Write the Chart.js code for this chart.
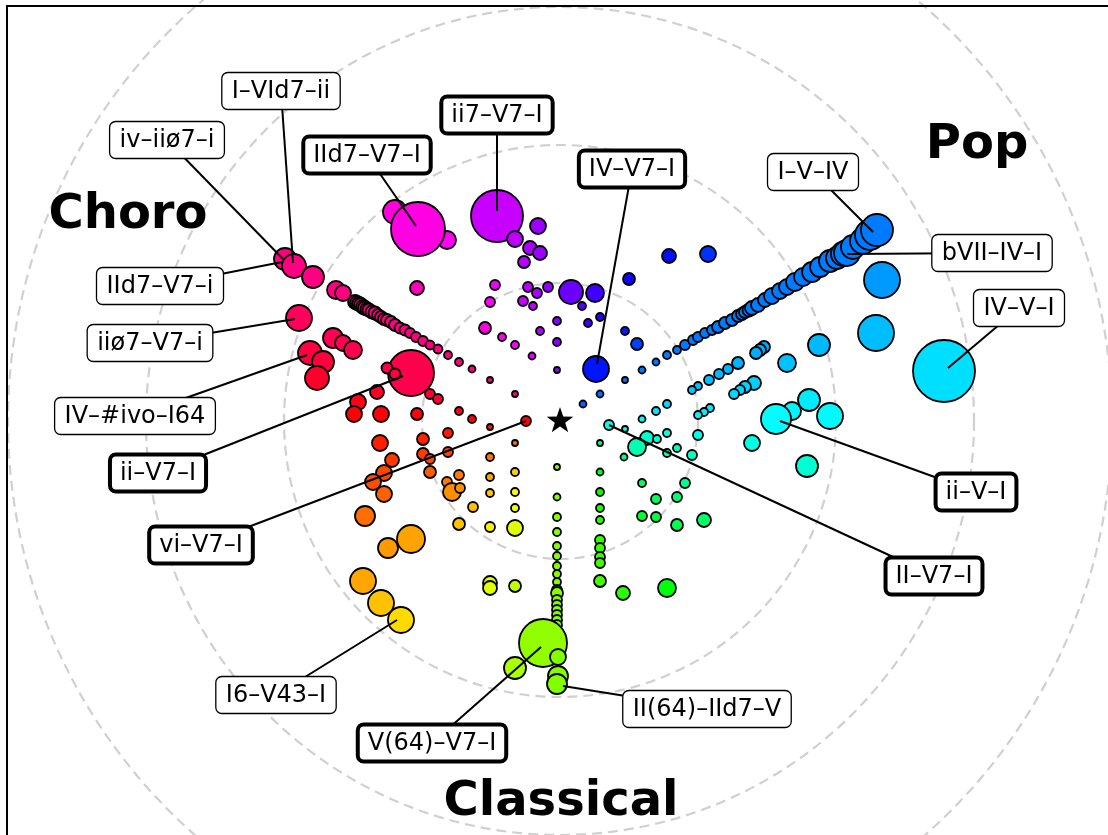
<!DOCTYPE html>
<html>
<head>
<meta charset="utf-8">
<script src="https://cdn.jsdelivr.net/npm/chart.js@4.4.0/dist/chart.umd.min.js"></script>
<style>
  html, body { margin: 0; padding: 0; background: #fff; }
  canvas { display: block; }
</style>
</head>
<body>
<canvas id="chart" width="1108" height="835"></canvas>
<script>
// rings around the centre (the star), same units as the points
const ringRadii = [138, 276, 414, 552];

// each point: [x, y, size] relative to the centre
const choroCluster = [
  [-275, 162, 11], [-266, 155, 12], [-247, 144, 11], [-224, 131, 9], [-217, 128, 8]
];
const choroRay = [
  [-205, 119, 7], [-203, 118, 7], [-201, 117, 7], [-199, 116, 7], [-197, 114, 7],
  [-195, 113, 7], [-193, 112, 6.5], [-191, 111, 6.5], [-188, 109, 6.5], [-185, 108, 6.5],
  [-182, 106, 6], [-179, 104, 6], [-176, 102, 6], [-173, 101, 6], [-169, 99, 6],
  [-165, 96, 6], [-160, 93, 5.5], [-155, 91, 5.5], [-150, 88, 5], [-144, 84, 5],
  [-137, 80, 5], [-130, 76, 4.5], [-122, 72, 4.5], [-112, 66, 4], [-101, 59, 4],
  [-88, 52, 3.5], [-70, 41, 3], [-45, 27, 3]
];
const magentaPoints = [
  [-165, 209, 12], [-113, 181, 9], [-142, 192, 27], [-143, 133, 7],
  [-65, 136, 5], [-70, 119, 5], [-75, 93, 6], [-58, 84, 4]
];
const purplePoints = [
  [-63, 205, 26], [-45, 182, 8], [-22, 195, 8], [-30, 173, 7], [-20, 168, 7], [-36, 159, 6],
  [-32, 134, 5], [-23, 128, 5], [-12, 134, 5], [-37, 120, 5], [-27, 115, 4],
  [11, 129, 12], [35, 128, 9], [22, 115, 4], [-3, 100, 4], [-20, 90, 4],
  [-3, 79, 4], [-45, 76, 4], [-28, 65, 3.5], [-3, 51, 3]
];
const bluePoints = [
  [109, 165, 7], [148, 167, 8], [69, 142, 6], [28, 98, 4], [40, 104, 4], [65, 90, 4],
  [77, 77, 6], [82, 51, 3.5], [65, 41, 3], [40, 27, 3.5], [23, 17, 3.5], [36, 52, 13]
];
const popRay = [
  [96, 59, 3.5], [107, 66, 4], [117, 71, 4], [125, 76, 5], [133, 81, 5], [138, 84, 5],
  [145, 88, 5], [152, 91, 5], [158, 94, 6], [165, 98, 6], [172, 101, 6], [178, 105, 6],
  [182, 107, 6], [185, 109, 6], [189, 111, 6.5], [192, 113, 7], [198, 116, 7], [205, 121, 7],
  [212, 125, 8], [220, 130, 8], [227, 134, 8], [235, 139, 9], [243, 144, 9], [252, 149, 10],
  [260, 154, 10], [270, 160, 11], [277, 163, 11], [283, 167, 12], [287, 168, 13],
  [293, 174, 12], [303, 180, 13], [310, 186, 15], [317, 191, 16]
];
const rightPoints = [
  [322, 141, 18], [316, 88, 18], [259, 76, 11], [227, 58, 9], [204, 74, 6], [200, 71, 6], [196, 68, 6],
  [178, 58, 6], [168, 52, 5], [159, 47, 5], [149, 41, 5], [138, 35, 4], [132, 31, 4],
  [194, 38, 7], [185, 34, 6], [180, 31, 5], [174, 27, 5],
  [150, 13, 4], [144, 9, 4], [138, 6, 4],
  [65, -8, 3], [82, 2, 3.5], [96, 10, 4], [107, 17, 4],
  [384, 50, 31],
  [232, 10, 9], [249, 21, 11], [270, 5, 13], [192, -22, 8], [247, -45, 11], [216, 2, 15]
];
const tealPoints = [
  [49, -4, 5], [87, -17, 7], [77, -26, 9], [97, -18, 4], [107, -12, 4], [117, -27, 4],
  [107, -32, 4], [138, -14, 5], [132, -34, 5], [64, -36, 3.5]
];
const greenPoints = [
  [82, -62, 4], [125, -62, 5], [96, -78, 5], [117, -76, 5], [82, -95, 5], [96, -96, 5],
  [117, -104, 6], [144, -99, 7],
  [40, -22, 3], [40, -51, 3.5], [40, -71, 4], [40, -87, 4], [40, -99, 4], [40, -119, 5],
  [40, -127, 5], [40, -136, 5], [40, -142, 5], [40, -160, 6],
  [63, -172, 7], [107, -167, 9]
];
const classicalColumn = [
  [-3, -46, 3], [-3, -76, 3.5], [-3, -96, 4], [-3, -111, 4], [-3, -125, 4], [-3, -135, 4],
  [-3, -145, 4], [-3, -153, 4], [-3, -161, 4], [-3, -169, 5], [-3, -172, 6], [-3, -179, 5],
  [-3, -184, 5], [-3, -189, 5], [-3, -194, 5], [-3, -199, 5], [-3, -204, 5],
  [-17, -222, 24], [-2, -236, 8], [-45, -247, 11], [-2, -255, 10], [-3, -263, 10]
];
const orangePoints = [
  [-112, -12, 5], [-137, -18, 6], [-180, -22, 8], [-168, -39, 7], [-137, -33, 6], [-130, -38, 5],
  [-112, -31, 5], [-70, -6, 3], [-45, -22, 3],
  [-70, -36, 4], [-70, -56, 4], [-70, -72, 4], [-70, -106, 5],
  [-45, -51, 4], [-45, -71, 4], [-45, -87, 4], [-45, -107, 8],
  [-176, -52, 8], [-187, -61, 8], [-176, -73, 8], [-130, -51, 6], [-101, -54, 5],
  [-113, -61, 5], [-108, -71, 9], [-100, -67, 5], [-195, -95, 10], [-87, -86, 5],
  [-101, -103, 6], [-149, -118, 14], [-172, -127, 10], [-197, -160, 13], [-179, -182, 13],
  [-159, -199, 13], [-70, -162, 7], [-70, -167, 7], [-45, -165, 6]
];
const redPoints = [
  [-261, 103, 13], [-227, 83, 10], [-217, 78, 8], [-207, 71, 9], [-250, 68, 12],
  [-237, 59, 11], [-243, 43, 12],
  [-149, 48, 23], [-173, 53, 5.5], [-165, 47, 5.5],
  [-130, 27, 5], [-122, 22, 5], [-183, 29, 7], [-202, 19, 8], [-206, 7, 8], [-179, 7, 8],
  [-143, 7, 6], [-101, 10, 4], [-88, 2, 4], [-34, 0, 5]
];

// annotated progressions
const labelText = [
  'I–VId7–ii', 'iv–iiø7–i', 'IId7–V7–i', 'iiø7–V7–i', 'IV–#ivo–I64', 'ii–V7–I',
  'vi–V7–I', 'I6–V43–I', 'V(64)–V7–I', 'II(64)–IId7–V', 'II–V7–I', 'ii–V–I',
  'IV–V–I', 'bVII–IV–I', 'I–V–IV', 'IV–V7–I', 'ii7–V7–I', 'IId7–V7–I'
];
const labelPoint = [
  [-267, 158], [-277, 162], [-278, 159], [-265, 102], [-253, 66], [-157, 45],
  [-34, 0], [-163, -199], [-19, -226], [3, -265], [49, -4], [220, 0],
  [388, 53], [287, 167], [313, 189], [37, 57], [-63, 210], [-144, 195]
];
const labelBox = [
  [-279, 330], [-393, 281], [-400, 135], [-410, 78], [-425, 5], [-402, -52],
  [-359, -124], [-284, -274], [-128, -322], [147, -288], [374, -155], [416, -71],
  [459, 113], [432, 168], [253, 249], [72, 252], [-63, 306], [-193, 266]
];
const labelBold = [
  false, false, false, false, false, true,
  true, false, true, false, true, true,
  false, false, false, true, true, true
];

const genreNames = ['Choro', 'Pop', 'Classical'];
const genrePos = [[-432, 193], [417, 263], [1, -394]];

const allPoints = [].concat(
  choroCluster, choroRay, magentaPoints, purplePoints, bluePoints, popRay,
  rightPoints, tealPoints, greenPoints, classicalColumn, orangePoints, redPoints
);

// colour follows the direction from the centre (hsv wheel)
function hueColor(p) {
  if (!p) return '#888';
  const a = Math.atan2(p.y, p.x) * 180 / Math.PI;
  return 'hsl(' + ((a + 540) % 360) + ', 100%, 50%)';
}

function roundRect(ctx, x, y, w, h, r) {
  ctx.beginPath();
  ctx.moveTo(x + r, y);
  ctx.lineTo(x + w - r, y);
  ctx.arcTo(x + w, y, x + w, y + r, r);
  ctx.lineTo(x + w, y + h - r);
  ctx.arcTo(x + w, y + h, x + w - r, y + h, r);
  ctx.lineTo(x + r, y + h);
  ctx.arcTo(x, y + h, x, y + h - r, r);
  ctx.lineTo(x, y + r);
  ctx.arcTo(x, y, x + r, y, r);
  ctx.closePath();
}

const overlay = {
  id: 'overlay',
  beforeDatasetsDraw(chart) {
    const { ctx, scales: { x, y } } = chart;
    const cx = x.getPixelForValue(0), cy = y.getPixelForValue(0);
    ctx.save();
    ctx.strokeStyle = '#d0d0d0';
    ctx.lineWidth = 2.2;
    ctx.setLineDash([10, 6]);
    ringRadii.forEach(r => {
      const rp = x.getPixelForValue(r) - cx;
      ctx.beginPath();
      ctx.arc(cx, cy, rp, 0, Math.PI * 2);
      ctx.stroke();
    });
    ctx.restore();
  },
  afterDatasetsDraw(chart) {
    const { ctx, scales: { x, y } } = chart;
    ctx.save();

    // centre star
    const cx = x.getPixelForValue(0), cy = y.getPixelForValue(0);
    ctx.beginPath();
    for (let i = 0; i < 10; i++) {
      const rad = i % 2 === 0 ? 14 : 5.5;
      const ang = -Math.PI / 2 + i * Math.PI / 5;
      const px = cx + rad * Math.cos(ang), py = cy + rad * Math.sin(ang);
      if (i === 0) ctx.moveTo(px, py); else ctx.lineTo(px, py);
    }
    ctx.closePath();
    ctx.fillStyle = '#000';
    ctx.fill();

    // leader lines
    ctx.strokeStyle = '#000';
    ctx.lineWidth = 2;
    labelText.forEach((t, i) => {
      ctx.beginPath();
      ctx.moveTo(x.getPixelForValue(labelPoint[i][0]), y.getPixelForValue(labelPoint[i][1]));
      ctx.lineTo(x.getPixelForValue(labelBox[i][0]), y.getPixelForValue(labelBox[i][1]));
      ctx.stroke();
    });

    // label boxes
    ctx.font = '24px "DejaVu Sans"';
    ctx.textAlign = 'center';
    ctx.textBaseline = 'middle';
    labelText.forEach((t, i) => {
      const bx = x.getPixelForValue(labelBox[i][0]);
      const by = y.getPixelForValue(labelBox[i][1]);
      const w = ctx.measureText(t).width + 20;
      const h = 37;
      roundRect(ctx, bx - w / 2, by - h / 2, w, h, 6);
      ctx.fillStyle = '#fff';
      ctx.fill();
      ctx.lineWidth = labelBold[i] ? 4 : 1.3;
      ctx.strokeStyle = '#000';
      ctx.stroke();
      ctx.fillStyle = '#000';
      ctx.fillText(t, bx, by + 1);
    });

    // genre names
    ctx.font = 'bold 48px "DejaVu Sans"';
    ctx.textBaseline = 'alphabetic';
    genreNames.forEach((g, i) => {
      ctx.fillText(g, x.getPixelForValue(genrePos[i][0]), y.getPixelForValue(genrePos[i][1]));
    });

    // axes frame (left and top edges are inside the picture)
    ctx.lineWidth = 2;
    ctx.beginPath();
    ctx.moveTo(x.getPixelForValue(-553), y.getPixelForValue(-414));
    ctx.lineTo(x.getPixelForValue(-553), y.getPixelForValue(415));
    ctx.lineTo(x.getPixelForValue(548), y.getPixelForValue(415));
    ctx.stroke();
    ctx.restore();
  }
};

new Chart(document.getElementById('chart'), {
  type: 'bubble',
  data: {
    datasets: [{
      data: allPoints.map(([px, py, r]) => ({ x: px, y: py, r: r })),
      backgroundColor: c => hueColor(c.raw),
      borderColor: '#000',
      borderWidth: 1.8
    }]
  },
  options: {
    responsive: false,
    animation: false,
    devicePixelRatio: 1,
    events: [],
    layout: { padding: 0, autoPadding: false },
    plugins: { legend: { display: false }, tooltip: { enabled: false } },
    scales: {
      x: { type: 'linear', min: -560, max: 548, display: false },
      y: { type: 'linear', min: -414, max: 421, display: false }
    }
  },
  plugins: [overlay]
});
</script>
</body>
</html>
